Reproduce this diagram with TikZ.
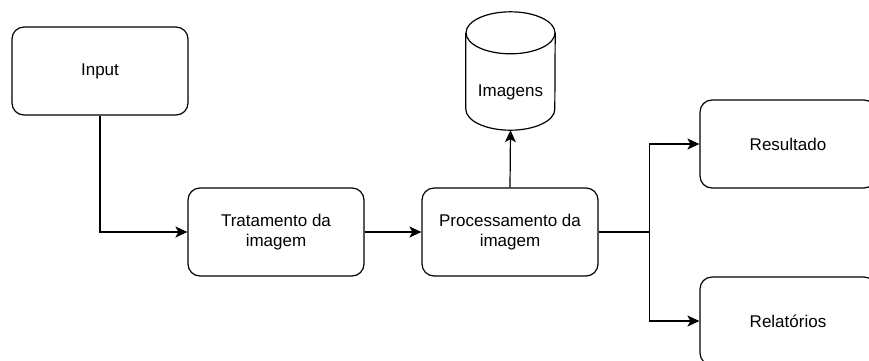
\documentclass[tikz,border=0pt]{standalone}
\usepackage{fontspec}
\setmainfont{Liberation Sans}
\usetikzlibrary{arrows.meta}
\tikzset{
  box/.style={draw,line width=1.2pt,rounded corners=12pt,minimum width=176pt,minimum height=88pt,align=center,font=\fontsize{17}{20.5}\selectfont},
  dbase/.style={minimum width=89pt,minimum height=76pt,font=\fontsize{17}{20.5}\selectfont},
  link/.style={line width=1.2pt,-{Stealth[length=12pt,width=11pt,inset=3pt]}},
}
\begin{document}
\begin{tikzpicture}[x=1pt,y=-1pt]
\useasboundingbox(0,0)rectangle(869,360);
\node[box](input)at(100,71){Input};
\node[box](tratamento)at(276,232){Tratamento da\\imagem};
\node[box](processamento)at(510,232){Processamento da\\imagem};
\node[dbase](imagens)at(510.5,92){Imagens};
\node[box](resultado)at(788,144){Resultado};
\node[box](relatorios)at(788,321){Relatórios};
%cylinder
\draw[line width=1.2pt]([yshift=21pt]imagens.north)ellipse[x radius=44.5pt,y radius=21pt];
\draw[line width=1.2pt]([yshift=21pt]imagens.north west)--([yshift=21pt]imagens.south west)
  arc[start angle=180,end angle=360,x radius=44.5pt,y radius=21pt]--([yshift=21pt]imagens.north east);

\draw[link](input.south)|-(tratamento.west);
\draw[link](tratamento.east)--(processamento.west);
\draw[link](processamento.north)--(imagens.south);
\draw[link](processamento.east)--++(51,0)|-(resultado.west);
\draw[link](processamento.east)--++(51,0)|-(relatorios.west);
\end{tikzpicture}
\end{document}
